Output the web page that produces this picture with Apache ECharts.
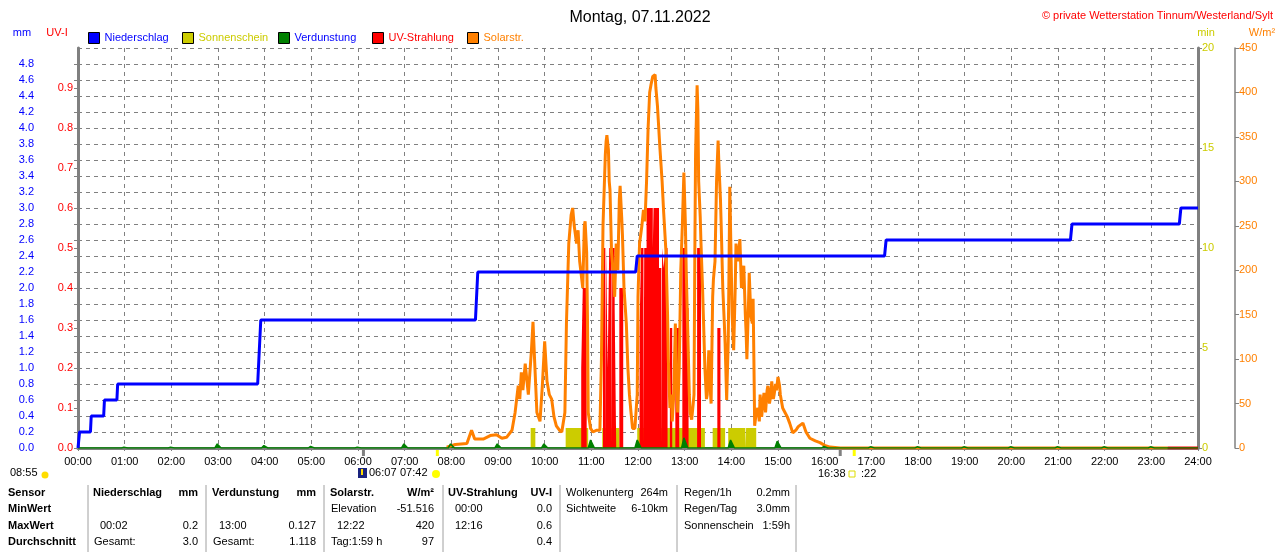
<!DOCTYPE html>
<html>
<head>
<meta charset="utf-8">
<title>Wetterstation Tinnum</title>
<script src="https://cdn.jsdelivr.net/npm/echarts@6.0.0/dist/echarts.min.js"></script>
<style>
  html, body { margin: 0; padding: 0; background: #fff; }
  #main { width: 1280px; height: 552px; }
</style>
</head>
<body>
<div id="main"></div>
<script>
// x values are minutes of the day (0 .. 1440)

// Niederschlag, kumuliert (mm)
var rainPts = [[0,0],[1,0],[2,0.2],[16,0.2],[17,0.4],[33,0.4],[34,0.6],[50,0.6],[51,0.8],
  [231,0.8],[232,1.0],[234,1.4],[235,1.6],[511,1.6],[512,1.8],[513,2.0],[514,2.2],
  [717,2.2],[719,2.4],[1037,2.4],[1039,2.6],[1276,2.6],[1278,2.8],[1416,2.8],[1418,3.0],[1440,3.0]];

// Sonnenschein (min), stufenweise: [Minute ab, Wert]
var sunPts = [[0,0],[582,1],[588,0],[627,1],[656,0],[674,1],[696,0],[719,1],[806,0],
  [816,1],[832,0],[836,1],[858,0],[859,1],[872,0],[1440,0]];

// Verdunstung je Stunde (mm), 00:00 .. 24:00
var evapHourly = [0, 0.01, 0.01, 0.05, 0.03, 0.02, 0.01, 0.05, 0.05, 0.05, 0.05, 0.1, 0.1,
  0.127, 0.1, 0.085, 0.02, 0.015, 0.015, 0.015, 0.015, 0.015, 0.015, 0.015, 0];

// UV-Strahlung (UV-I), stufenweise: [Minute ab, Wert]
var uvPts = [[0,0],[647,0.2],[649,0.4],[654,0],[675,0.5],[678,0],[679,0.5],[681,0.2],[683,0.5],
  [686,0],[687,0.5],[690,0.35],[692,0],[696,0.4],[701,0],[722,0.3],[724,0.5],[727,0],[728,0.5],
  [731,0.6],[739,0.5],[740,0.6],[747,0.45],[750,0],[751,0.5],[753,0.45],[755,0.5],[758,0],
  [761,0.3],[764,0],[768,0.3],[773,0],[777,0.5],[782,0.35],[785,0],[796,0.5],[801,0],
  [822,0.3],[826,0],[1440,0]];
var uvTail = [[1401,0],[1440,0]];

// Solarstrahlung (W/m²)
var solarPts = [[474,1],[485,4],[500,5],[506,20],[510,10],[521,10],[530,14],[538,15],[545,11],[551,12],
  [558,20],[562,40],[566,70],[568,55],[570,85],[572,65],[575,95],[579,60],[583,110],[585,142],[587,100],
  [590,40],[594,30],[597,70],[600,120],[603,75],[606,60],[609,55],[612,35],[615,25],[619,20],[622,18],
  [626,40],[628,140],[631,230],[634,262],[636,270],[638,250],[641,230],[643,245],[645,210],[647,195],
  [649,180],[651,250],[652,255],[654,220],[655,150],[656,40],[659,22],[662,18],[667,20],[671,20],
  [673,100],[675,250],[678,330],[679,345],[680,352],[682,335],[683,300],[684,290],[686,220],[688,200],
  [690,170],[692,230],[694,200],[696,280],[697,295],[699,260],[700,240],[702,180],[705,140],[707,90],
  [709,60],[711,40],[713,22],[716,22],[719,60],[720,170],[722,230],[725,250],[727,268],[729,255],
  [731,300],[733,360],[735,400],[737,410],[739,418],[742,420],[743,405],[745,385],[746,370],[748,340],
  [751,300],[753,265],[756,220],[758,150],[759,100],[761,45],[763,60],[764,30],[766,60],[768,140],
  [769,100],[771,40],[773,90],[775,200],[777,250],[778,280],[779,310],[781,250],[782,200],[784,130],
  [786,60],[787,40],[789,32],[791,50],[792,60],[793,210],[794,330],[796,408],[797,380],[798,300],
  [800,260],[801,230],[803,180],[804,150],[806,90],[808,55],[809,60],[811,110],[812,80],[814,50],
  [816,170],[817,190],[819,210],[821,300],[823,346],[824,320],[826,280],[827,250],[829,180],[831,140],
  [832,118],[834,54],[836,120],[837,200],[838,294],[840,200],[841,150],[843,110],[845,180],[846,230],
  [848,210],[850,225],[851,235],[853,180],[855,200],[856,205],[858,150],[859,130],[860,100],[862,160],
  [863,197],[865,150],[867,140],[868,168],[869,100],[870,25],[872,40],[874,45],[876,30],[877,60],
  [879,35],[881,55],[882,62],[884,40],[886,65],[887,70],[889,50],[890,55],[892,75],[894,55],[895,60],
  [897,72],[898,65],[900,80],[902,70],[903,60],[906,45],[909,40],[912,35],[915,28],[919,17],[923,20],
  [926,24],[928,24],[932,28],[936,18],[941,11],[948,8],[954,6],[960,3],[967,1],[980,0],[1401,0]];

// Tabelle unten
var tableHead = ['Sensor', 'MinWert', 'MaxWert', 'Durchschnitt'];
var tableCols = [
  { head: ['Niederschlag', 'mm'], rows: [['', ''], ['00:02', '0.2'], ['Gesamt:', '3.0']] },
  { head: ['Verdunstung', 'mm'], rows: [['', ''], ['13:00', '0.127'], ['Gesamt:', '1.118']] },
  { head: ['Solarstr.', 'W/m²'], rows: [['Elevation', '-51.516'], ['12:22', '420'], ['Tag:1:59 h', '97']] },
  { head: ['UV-Strahlung', 'UV-I'], rows: [['00:00', '0.0'], ['12:16', '0.6'], ['', '0.4']] }
];
var infoCols = [
  [['Wolkenunterg', '264m'], ['Sichtweite', '6-10km']],
  [['Regen/1h', '0.2mm'], ['Regen/Tag', '3.0mm'], ['Sonnenschein', '1:59h']]
];
// Sonnenzeiten (Minute): Dämmerung, Aufgang, Dämmerung, Untergang
var sunMarks = [[367, '#808080'], [462, '#ffff00'], [980, '#808080'], [998, '#ffff00']];

var FONT = 'Liberation Sans, Arial, sans-serif';
var GRAY = '#808080';

function pad2(n) { return (n < 10 ? '0' : '') + n; }

var evapPts = [[0, 0]];
evapHourly.forEach(function (v, h) {
  var m = h * 60;
  if (v > 0) {
    evapPts.push([m - 4, 0], [m - 1, v], [m + 1, v], [m + 4, 0]);
  }
});
evapPts.push([1440, 0]);

function legendAt(left, name, color, textColor) {
  return {
    left: left, top: 32, padding: 0, icon: 'rect', itemWidth: 11, itemHeight: 11,
    selectedMode: false,
    textStyle: { fontSize: 11, fontFamily: FONT, color: textColor },
    data: [{ name: name, itemStyle: { color: color, borderColor: '#000', borderWidth: 1 },
             textStyle: { color: textColor } }]
  };
}

function valueAxis(opt) {
  return Object.assign({
    type: 'value',
    axisLine: { show: true, lineStyle: { color: GRAY, width: 1.5 } },
    axisTick: { show: true, length: 4, lineStyle: { color: GRAY } },
    splitLine: { show: false }
  }, opt);
}

var chart = echarts.init(document.getElementById('main'));

chart.setOption({
  animation: false,
  backgroundColor: '#fff',
  textStyle: { fontFamily: FONT },
  title: [
    { text: 'Montag, 07.11.2022', left: 'center', top: 5,
      textStyle: { fontSize: 16, fontWeight: 'normal', color: '#000', fontFamily: FONT } },
    { text: '© private Wetterstation Tinnum/Westerland/Sylt', right: 2, top: 5,
      textStyle: { fontSize: 11, fontWeight: 'normal', color: '#ff0000', fontFamily: FONT } }
  ],
  legend: [
    legendAt(88, 'Niederschlag', '#0000ff', '#0000ff'),
    legendAt(182, 'Sonnenschein', '#cccc00', '#cccc00'),
    legendAt(278, 'Verdunstung', '#008000', '#0000ff'),
    legendAt(372, 'UV-Strahlung', '#ff0000', '#ff0000'),
    legendAt(467, 'Solarstr.', '#ff8000', '#ff8000')
  ],
  grid: { left: 78, right: 82, top: 48, bottom: 104 },
  xAxis: [
    { type: 'value', min: 0, max: 1440, interval: 60,
      axisLine: { show: true, lineStyle: { color: GRAY, width: 1 } },
      axisTick: { show: true, length: 3, lineStyle: { color: GRAY } },
      axisLabel: { color: '#000', fontSize: 11, margin: 8,
        formatter: function (v) { return pad2(v / 60) + ':00'; } },
      splitLine: { show: true, lineStyle: { color: GRAY, type: [4, 4], width: 1 } } },
    { type: 'value', position: 'top', min: 0, max: 1440,
      axisLine: { show: true, lineStyle: { color: GRAY, width: 3 } },
      axisTick: { show: false }, axisLabel: { show: false }, splitLine: { show: false } }
  ],
  yAxis: [
    valueAxis({ position: 'left', offset: 37, min: 0, max: 5, interval: 0.2,
      axisLabel: { color: '#0000ff', fontSize: 11, margin: 7, showMaxLabel: false,
        formatter: function (v) { return v.toFixed(1); } },
      splitLine: { show: true, lineStyle: { color: GRAY, type: [4, 4], width: 1 } } }),
    valueAxis({ position: 'left', offset: 0, min: 0, max: 1, interval: 0.1,
      axisLine: { show: true, lineStyle: { color: GRAY, width: 3 } },
      axisLabel: { color: '#ff0000', fontSize: 11, margin: 5, showMaxLabel: false,
        formatter: function (v) { return v.toFixed(1); } } }),
    valueAxis({ position: 'right', offset: 0, min: 0, max: 20, interval: 5,
      axisLine: { show: true, lineStyle: { color: GRAY, width: 3 } },
      axisLabel: { color: '#cccc00', fontSize: 11, margin: 4 } }),
    valueAxis({ position: 'right', offset: 37, min: 0, max: 450, interval: 50,
      axisLabel: { color: '#ff8000', fontSize: 11, margin: 4 } })
  ],
  series: [
    { name: 'Sonnenschein', type: 'line', yAxisIndex: 2, step: 'end', data: sunPts,
      symbol: 'none', lineStyle: { width: 0 }, itemStyle: { color: '#cccc00' },
      areaStyle: { color: '#cccc00', opacity: 1 } },
    { name: 'Solarstr.', type: 'line', yAxisIndex: 3, data: solarPts, symbol: 'none',
      lineStyle: { color: '#ff8000', width: 3 }, itemStyle: { color: '#ff8000' } },
    { name: 'UV-Strahlung', type: 'line', yAxisIndex: 1, step: 'end', data: uvPts,
      symbol: 'none', lineStyle: { width: 0 }, itemStyle: { color: '#ff0000' },
      areaStyle: { color: '#ff0000', opacity: 1 } },
    { name: 'UV-Strahlung', type: 'line', yAxisIndex: 1, data: uvTail, symbol: 'none',
      lineStyle: { color: '#ff0000', width: 3 }, itemStyle: { color: '#ff0000' } },
    { name: 'Verdunstung', type: 'line', yAxisIndex: 0, data: evapPts, symbol: 'none',
      lineStyle: { color: '#008000', width: 1.5 }, itemStyle: { color: '#008000' },
      areaStyle: { color: '#008000', opacity: 1 } },
    { name: 'Niederschlag', type: 'line', yAxisIndex: 0, data: rainPts, symbol: 'none',
      lineStyle: { color: '#0000ff', width: 3 }, itemStyle: { color: '#0000ff' } }
  ]
});

// Beschriftungen, Sonnenzeiten und Tabelle
var g = [];
function txt(x, y, s, color, opt) {
  opt = opt || {};
  g.push({ type: 'text', x: x, y: y, silent: true, style: {
    text: s, fill: color || '#000', font: (opt.bold ? 'bold ' : '') + (opt.size || 11) + 'px ' + FONT,
    textAlign: opt.align || 'left', textVerticalAlign: 'middle' } });
}

txt(22, 33, 'mm', '#0000ff', { align: 'center' });
txt(57, 33, 'UV-I', '#ff0000', { align: 'center' });
txt(1206, 33, 'min', '#cccc00', { align: 'center' });
txt(1262, 33, 'W/m²', '#ff8000', { align: 'center' });

sunMarks.forEach(function (s) {
  var x = chart.convertToPixel({ xAxisIndex: 0 }, s[0]);
  g.push({ type: 'rect', silent: true, shape: { x: x - 1.5, y: 449, width: 3, height: 7 },
    style: { fill: s[1] } });
});

txt(10, 473, '08:55', '#000');
g.push({ type: 'circle', silent: true, shape: { cx: 45, cy: 475, r: 3.5 }, style: { fill: '#ffdd00' } });
g.push({ type: 'rect', silent: true, shape: { x: 358, y: 468, width: 9, height: 10 }, style: { fill: '#1a237e' } });
g.push({ type: 'rect', silent: true, shape: { x: 361, y: 469, width: 2, height: 6 }, style: { fill: '#ffdd00' } });
txt(369, 473, '06:07', '#000');
txt(400, 473, '07:42', '#000');
g.push({ type: 'circle', silent: true, shape: { cx: 436, cy: 474, r: 4 }, style: { fill: '#ffff00' } });
txt(818, 474, '16:38', '#000');
g.push({ type: 'rect', silent: true, shape: { x: 849, y: 471, width: 6, height: 6 },
  style: { fill: 'none', stroke: '#dddd00', lineWidth: 1 } });
txt(861, 474, ':22', '#000');

var rowY = [493, 509, 526, 542];
var colLeft = [93, 212, 330, 448];
var colRight = [198, 316, 434, 552];
tableHead.forEach(function (s, i) { txt(8, rowY[i], s, '#000', { bold: true }); });
tableCols.forEach(function (c, k) {
  txt(colLeft[k], rowY[0], c.head[0], '#000', { bold: true });
  txt(colRight[k], rowY[0], c.head[1], '#000', { bold: true, align: 'right' });
  c.rows.forEach(function (r, i) {
    var indent = /^\d\d:\d\d$/.test(r[0]) ? 7 : 1;
    txt(colLeft[k] + indent, rowY[i + 1], r[0], '#000');
    txt(colRight[k], rowY[i + 1], r[1], '#000', { align: 'right' });
  });
});
var infoLeft = [566, 684], infoRight = [668, 790];
infoCols.forEach(function (c, k) {
  c.forEach(function (r, i) {
    txt(infoLeft[k], rowY[i], r[0], '#000');
    txt(infoRight[k], rowY[i], r[1], '#000', { align: 'right' });
  });
});
[88, 206, 324, 443, 560, 677, 796].forEach(function (x) {
  g.push({ type: 'line', silent: true, shape: { x1: x, y1: 485, x2: x, y2: 552 },
    style: { stroke: '#a0a0a0', lineWidth: 1 } });
});

chart.setOption({ graphic: g });
</script>
</body>
</html>
